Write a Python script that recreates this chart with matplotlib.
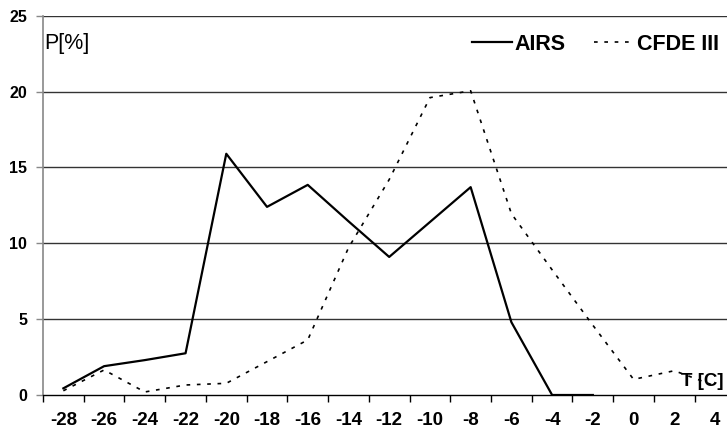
import numpy as np
import matplotlib
matplotlib.use("Agg")
import matplotlib.pyplot as plt

plt.rcParams['font.family'] = ['Liberation Sans', 'DejaVu Sans']

## data
temps = [-28, -26, -24, -22, -20, -18, -16, -14, -12, -10, -8, -6, -4, -2, 0, 2, 4]
airs = [0.44, 1.9, 2.3, 2.75, 15.9, 12.4, 13.85, 11.45, 9.1, 11.4, 13.7, 4.8, 0.0, 0.0]
cfde = [0.28, 1.65, 0.2, 0.66, 0.77, 2.2, 3.63, 9.7, 14.2, 19.6, 20.05, 11.95, 8.25, 4.6, 1.03, 1.6, 0.6]
yticks = [0, 5, 10, 15, 20, 25]

fig = plt.figure(figsize=(7.27, 4.33), dpi=100)
ax = fig.add_axes([43 / 727, 38 / 433, 692.4 / 727, 379.3 / 433])

idx = np.arange(len(temps))
ax.plot(idx[:len(airs)], airs, color='black', lw=1.6, label='AIRS', zorder=3)
ax.plot(idx[:len(cfde)], cfde, color='black', lw=1.2, dashes=(2.2, 4.0), label='CFDE III', zorder=3)

ax.set_xlim(-0.5, len(temps) - 0.5)
ax.set_ylim(0, 25)

# horizontal grid
for y in yticks[1:]:
    ax.axhline(y, color='#333333', lw=1.0, zorder=1)

# boundary ticks between categories, labels at categories
ax.set_xticks(np.arange(len(temps) + 1) - 0.5)
ax.set_xticklabels([])
ax.set_xticks(idx, minor=True)
ax.set_xticklabels([str(t) for t in temps], minor=True, fontsize=13.5, fontweight='bold')
ax.tick_params(axis='x', which='major', direction='out', length=5, width=1, color='black')
ax.tick_params(axis='x', which='minor', length=0, pad=12)

ax.set_yticks(yticks)
ax.set_yticklabels([str(v) for v in yticks], fontsize=11.5, fontweight='bold')
ax.tick_params(axis='y', direction='out', length=5, width=1, color='#888888', pad=6.5)

for s in ['top', 'right']:
    ax.spines[s].set_visible(False)
ax.spines['left'].set_color('#888888')
ax.spines['left'].set_linewidth(1.2)
ax.spines['bottom'].set_color('black')
ax.spines['bottom'].set_linewidth(1.0)

ax.text(44 / 727, 1 - 44 / 433, 'P[%]', transform=fig.transFigure,
        fontsize=15.5, ha='left', va='center')
ax.text(681 / 727, 1 - 382 / 433, 'T [C]', transform=fig.transFigure,
        fontsize=13.5, fontweight='bold', ha='left', va='center', zorder=4)

fig.legend(loc='center right', bbox_to_anchor=(719 / 727, 1 - 44 / 433), ncol=2,
           frameon=False, prop={'size': 15.5, 'weight': 'bold'},
           handlelength=1.86, handletextpad=0.14, columnspacing=1.3, borderaxespad=0,
           borderpad=0)

fig.savefig('out.png', dpi=100)
